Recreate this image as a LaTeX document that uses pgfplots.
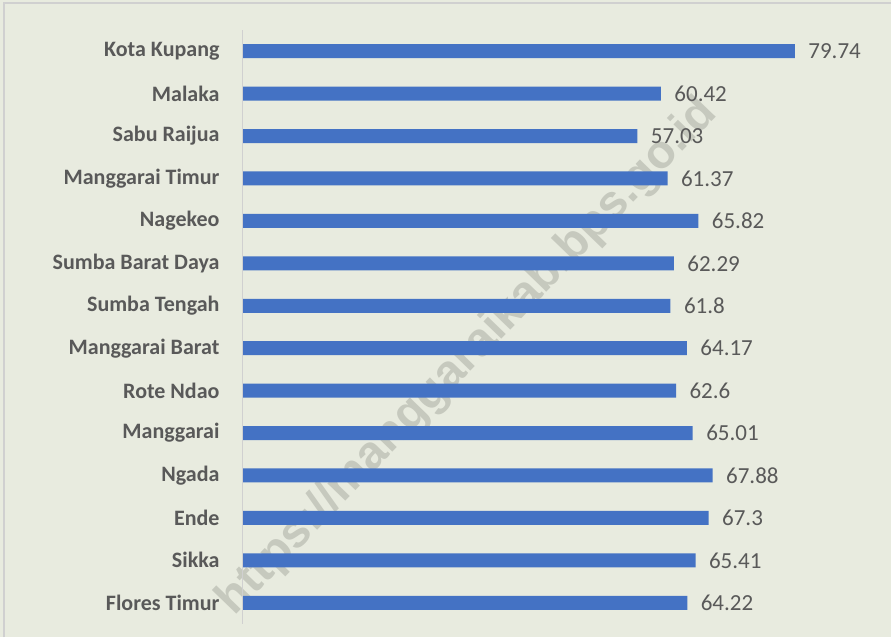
\documentclass[border=0pt]{standalone}
\usepackage{pgfplots}
\pgfplotsset{compat=1.18}
\usepackage{fontspec}
\setmainfont{Carlito}
\newfontfamily\wmfont{Liberation Sans}
\definecolor{bg}{HTML}{E8EBDF}
\definecolor{barblue}{HTML}{4472C4}
\definecolor{txt}{HTML}{595959}
\definecolor{wm}{HTML}{C6C9BE}
\definecolor{frame}{HTML}{D0D0D0}
\begin{document}
\begin{tikzpicture}
\useasboundingbox (0pt,0pt) rectangle (891pt,637pt);
\fill[bg] (0pt,0pt) rectangle (891pt,637pt);
\draw[frame,line width=1.5pt] (4pt,0pt) -- (4pt,634pt) -- (891pt,634pt);
\node[rotate=46,text=wm,font=\wmfont\bfseries\fontsize{47}{47}\selectfont] at (468pt,280pt) {https://manggaraikab.bps.go.id};
\begin{axis}[
  at={(242pt,13pt)}, anchor=south west,
  scale only axis, width=624pt, height=594pt,
  xbar, bar width=14pt,
  xmin=0, xmax=90, ymin=-0.5, ymax=13.5,
  axis line style={draw=none},
  hide x axis,
  ytick={0,...,13},
  yticklabels={Flores Timur,Sikka,Ende,Ngada,Manggarai,Rote Ndao,Manggarai Barat,Sumba Tengah,Sumba Barat Daya,Nagekeo,Manggarai Timur,Sabu Raijua,Malaka,Kota Kupang},
  major tick length=0pt,
  yticklabel style={font=\bfseries\fontsize{22}{24}\selectfont, text=txt, xshift=-19pt},
  nodes near coords,
  nodes near coords style={font=\fontsize{23}{25}\selectfont, text=txt, anchor=west, xshift=10pt},
  point meta=explicit symbolic,
]
\addplot[fill=barblue, draw=none] table[meta=l] {
x y l
64.22 0 64.22
65.41 1 65.41
67.3 2 67.3
67.88 3 67.88
65.01 4 65.01
62.6 5 62.6
64.17 6 64.17
61.8 7 61.8
62.29 8 62.29
65.82 9 65.82
61.37 10 61.37
57.03 11 57.03
60.42 12 60.42
79.74 13 79.74
};
\draw[frame, line width=1.5pt] (axis cs:0,-0.5) -- (axis cs:0,13.5);
\end{axis}
\end{tikzpicture}
\end{document}
